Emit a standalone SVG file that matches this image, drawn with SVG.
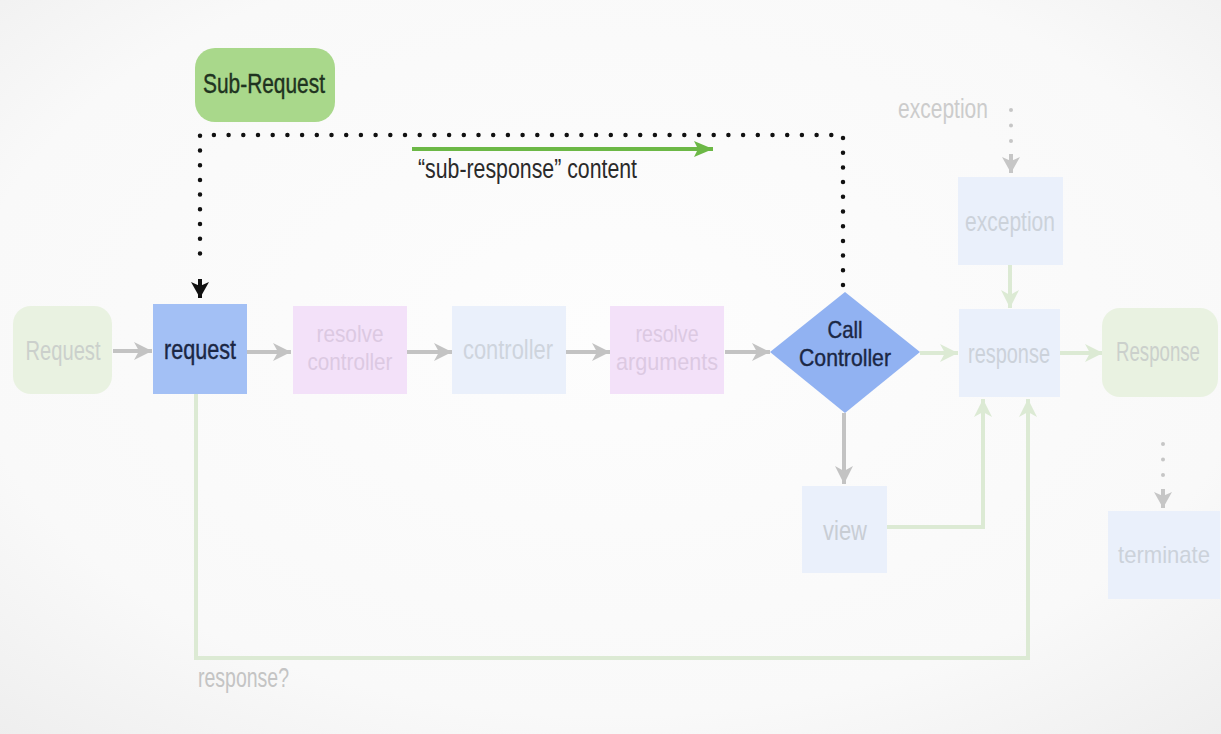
<svg xmlns="http://www.w3.org/2000/svg" width="1221" height="734" viewBox="0 0 1221 734">
<defs>
<radialGradient id="bg" cx="50%" cy="45%" r="75%">
<stop offset="0" stop-color="#fdfdfd"/>
<stop offset="0.7" stop-color="#f9f9f9"/>
<stop offset="1" stop-color="#eeeeee"/>
</radialGradient>
<marker id="ag" markerUnits="userSpaceOnUse" markerWidth="24" markerHeight="24" refX="19" refY="10" orient="auto">
<path d="M1,1 L19,10 L1,19 L6,10 Z" fill="#c3c3c3"/>
</marker>
<marker id="al" markerUnits="userSpaceOnUse" markerWidth="24" markerHeight="24" refX="19" refY="10" orient="auto">
<path d="M1,1 L19,10 L1,19 L6,10 Z" fill="#dcead4"/>
</marker>
<marker id="ab" markerUnits="userSpaceOnUse" markerWidth="24" markerHeight="22" refX="20" refY="9" orient="auto">
<path d="M1,1 L20,9 L1,17 L5,9 Z" fill="#6cb846"/>
</marker>
<marker id="ak" markerUnits="userSpaceOnUse" markerWidth="22" markerHeight="22" refX="17" refY="10" orient="auto">
<path d="M1,1 L17,10 L1,19 L5,10 Z" fill="#111111"/>
</marker>
<marker id="ad" markerUnits="userSpaceOnUse" markerWidth="22" markerHeight="22" refX="17" refY="10" orient="auto">
<path d="M1,1 L17,10 L1,19 L5,10 Z" fill="#c6c6c6"/>
</marker>
</defs>
<style>
text { font-family: "Liberation Sans", Arial, sans-serif; font-size: 27px; }
.c { text-anchor: middle; }
.two { font-size: 24px; }
.faint { fill: #cbd0cc; }
.dark { fill: #1b2744; stroke: #1b2744; stroke-width: 0.4; }
.gray { stroke: #c3c3c3; stroke-width: 4; fill: none; marker-end: url(#ag); }
.lga { stroke: #dcead4; stroke-width: 4; fill: none; marker-end: url(#al); }
.dots { stroke: #111; stroke-width: 4.5; stroke-linecap: round; stroke-dasharray: 0 14.7; fill: none; }
.gdots { stroke: #c6c6c6; stroke-width: 4; stroke-linecap: round; stroke-dasharray: 0 15.5; fill: none; }
.pb { fill: #eaf0fb; }
.pp { fill: #f3e1f9; }
.pg { fill: #e9f2e1; }
</style>
<rect x="0" y="0" width="1221" height="734" fill="url(#bg)"/>

<g id="connectors">
<line class="gray" x1="113" y1="351" x2="152" y2="351"/>
<line class="gray" x1="247" y1="352" x2="291" y2="352"/>
<line class="gray" x1="407" y1="352" x2="452" y2="352"/>
<line class="gray" x1="566" y1="352" x2="610" y2="352"/>
<line class="gray" x1="725" y1="352" x2="770" y2="352"/>
<line class="gray" x1="844" y1="413" x2="844" y2="484"/>
<line class="lga" x1="920" y1="353" x2="958" y2="353"/>
<line class="lga" x1="1060" y1="353" x2="1103" y2="353"/>
<line class="lga" x1="1010" y1="265" x2="1010" y2="308"/>
<path class="lga" d="M866,527 L983,527 L983,399"/>
<path class="lga" d="M196,394 L196,658 L1028,658 L1028,399"/>
<path class="dots" d="M843,285 L843,135 L200,135 L200,268"/>
<line x1="200" y1="279" x2="200" y2="298" stroke="#111" stroke-width="4" marker-end="url(#ak)"/>
<line x1="412" y1="149" x2="713" y2="149" stroke="#6cb846" stroke-width="4" marker-end="url(#ab)"/>
<path class="gdots" d="M1011,110 L1011,142"/>
<line x1="1011" y1="154" x2="1011" y2="173" stroke="#c6c6c6" stroke-width="4" marker-end="url(#ad)"/>
<path class="gdots" d="M1163,444 L1163,476"/>
<line x1="1163" y1="489" x2="1163" y2="508" stroke="#c6c6c6" stroke-width="4" marker-end="url(#ad)"/>
<text x="198" y="687" textLength="91" lengthAdjust="spacingAndGlyphs" fill="#c4c4c4">response?</text>
<text x="418" y="178" textLength="219" lengthAdjust="spacingAndGlyphs" fill="#2a2a2a">“sub-response” content</text>
<text x="898" y="118" textLength="90" lengthAdjust="spacingAndGlyphs" fill="#cccccc">exception</text>
</g>

<g id="sub-request">
<rect x="195" y="48" width="140" height="74" rx="20" fill="#a9d88b"/>
<text class="c" x="264" y="93" font-size="29" textLength="122" lengthAdjust="spacingAndGlyphs" fill="#1f3320" stroke="#1f3320" stroke-width="0.4">Sub-Request</text>
</g>
<g id="Request">
<rect x="13" y="306" width="99" height="88" rx="18" class="pg"/>
<text class="c faint" x="63" y="360" textLength="75" lengthAdjust="spacingAndGlyphs">Request</text>
</g>
<g id="request">
<rect x="153" y="304" width="94" height="90" fill="#a3c0f5"/>
<text class="c dark" x="200" y="359" textLength="72" lengthAdjust="spacingAndGlyphs">request</text>
</g>
<g id="resolve-controller">
<rect x="293" y="306" width="114" height="88" class="pp"/>
<text class="c two" x="350" y="342" textLength="67" lengthAdjust="spacingAndGlyphs" fill="#dcc9e2">resolve</text>
<text class="c two" x="350" y="370" textLength="85" lengthAdjust="spacingAndGlyphs" fill="#dcc9e2">controller</text>
</g>
<g id="controller">
<rect x="452" y="306" width="114" height="88" class="pb"/>
<text class="c" x="508" y="359" textLength="90" lengthAdjust="spacingAndGlyphs" fill="#ced4dd">controller</text>
</g>
<g id="resolve-arguments">
<rect x="610" y="306" width="114" height="88" class="pp"/>
<text class="c two" x="667" y="342" textLength="63" lengthAdjust="spacingAndGlyphs" fill="#dcc9e2">resolve</text>
<text class="c two" x="667" y="370" textLength="102" lengthAdjust="spacingAndGlyphs" fill="#dcc9e2">arguments</text>
</g>
<g id="call-controller">
<polygon points="845,292 920,352 845,413 770,352" fill="#91b2f2"/>
<text class="c dark two" x="845" y="338" textLength="35" lengthAdjust="spacingAndGlyphs">Call</text>
<text class="c dark two" x="845" y="366" textLength="92" lengthAdjust="spacingAndGlyphs">Controller</text>
</g>
<g id="exception">
<rect x="958" y="177" width="105" height="88" class="pb"/>
<text class="c" x="1010" y="231" textLength="90" lengthAdjust="spacingAndGlyphs" fill="#ccd2da">exception</text>
</g>
<g id="response">
<rect x="959" y="309" width="101" height="88" class="pb"/>
<text class="c" x="1009" y="363" textLength="82" lengthAdjust="spacingAndGlyphs" fill="#ccd2da">response</text>
</g>
<g id="Response">
<rect x="1102" y="308" width="116" height="89" rx="18" class="pg"/>
<text class="c faint" x="1158" y="361" font-size="22" textLength="84" lengthAdjust="spacingAndGlyphs">Response</text>
</g>
<g id="view">
<rect x="802" y="486" width="85" height="87" class="pb"/>
<text class="c" x="845" y="540" textLength="44" lengthAdjust="spacingAndGlyphs" fill="#c8cdd4">view</text>
</g>
<g id="terminate">
<rect x="1108" y="511" width="112" height="88" class="pb"/>
<text class="c two" x="1164" y="563" textLength="92" lengthAdjust="spacingAndGlyphs" fill="#ccd2da">terminate</text>
</g>
</svg>
